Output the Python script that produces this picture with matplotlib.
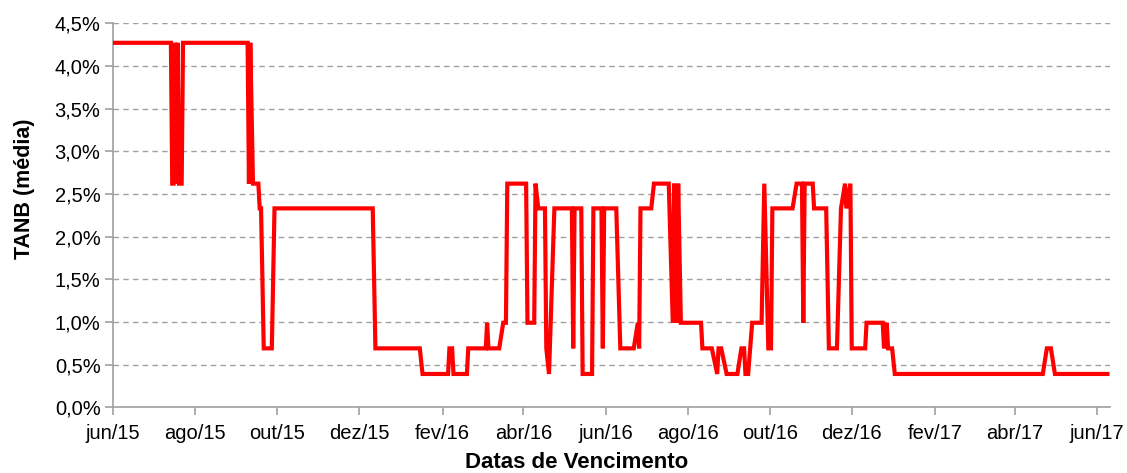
import numpy as np
import matplotlib
matplotlib.use("Agg")
import matplotlib.pyplot as plt
import matplotlib.dates as mdates
from matplotlib.ticker import FuncFormatter, MultipleLocator

plt.rcParams['font.family'] = ['Liberation Sans', 'DejaVu Sans']

# Datas de vencimento: dias desde 2015-06-01
data_base = "2015-06-01"
dias = [1, 43, 44, 45, 46, 47, 48, 49, 51, 52, 100, 101, 102, 104, 108, 109, 110, 112, 118, 120,
        193, 195, 228, 230, 249, 250, 252, 253, 263, 264, 277, 278, 279, 287, 290, 292, 293, 307,
        308, 313, 314, 316, 321, 322, 324, 328, 341, 342, 343, 348, 349, 356, 357, 363, 364, 365,
        374, 377, 387, 390, 391, 392, 400, 402, 413, 416, 417, 419, 420, 422, 437, 438, 445, 449,
        450, 452, 456, 464, 467, 469, 470, 472, 475, 482, 484, 487, 489, 490, 505, 508, 512, 513,
        514, 520, 521, 530, 532, 538, 541, 544, 545, 548, 549, 559, 560, 572, 573, 575, 576, 579,
        581, 691, 694, 697, 700, 739]
# TANB média (%)
tanb = [4.27, 4.27, 2.62, 2.62, 4.27, 2.62, 4.27, 2.62, 2.62, 4.27, 4.27, 2.62, 4.27, 2.62, 2.62, 2.33, 2.33, 0.69, 0.69, 2.33,
        2.33, 0.69, 0.69, 0.39, 0.39, 0.69, 0.69, 0.39, 0.39, 0.69, 0.69, 0.99, 0.69, 0.69, 0.99, 0.99, 2.62, 2.62,
        0.99, 0.99, 2.62, 2.33, 2.33, 0.69, 0.39, 2.33, 2.33, 0.69, 2.33, 2.33, 0.39, 0.39, 2.33, 2.33, 0.69, 2.33,
        2.33, 0.69, 0.69, 0.99, 0.69, 2.33, 2.33, 2.62, 2.62, 0.99, 2.62, 0.99, 2.62, 0.99, 0.99, 0.69, 0.69, 0.39,
        0.69, 0.69, 0.39, 0.39, 0.69, 0.69, 0.39, 0.39, 0.99, 0.99, 2.62, 0.69, 0.69, 2.33, 2.33, 2.62, 2.62, 0.99,
        2.62, 2.62, 2.33, 2.33, 0.69, 0.69, 2.33, 2.62, 2.33, 2.62, 0.69, 0.69, 0.99, 0.99, 0.69, 0.99, 0.69, 0.69,
        0.39, 0.39, 0.69, 0.69, 0.39, 0.39]

meses_pt = ["jan", "fev", "mar", "abr", "mai", "jun", "jul", "ago", "set", "out", "nov", "dez"]
x_inicio = "2015-06-01"
x_fim = "2017-06-11"

datas = np.datetime64(data_base) + np.array(dias).astype('timedelta64[D]')
valores = np.array(tanb) / 100.0

fig = plt.figure(figsize=(11.27, 4.73), dpi=100)
ax = fig.add_axes([0.1003, 0.139, 0.8847, 0.812])

ax.plot(datas, valores, color='#FF0000', lw=3.0, solid_joinstyle='miter', zorder=3)

ax.set_ylim(0, 0.045)
ax.yaxis.set_major_locator(MultipleLocator(0.005))
ax.yaxis.set_major_formatter(FuncFormatter(lambda v, p: f"{v*100:.1f}%".replace('.', ',')))
ax.set_xlim(np.datetime64(x_inicio), np.datetime64(x_fim))
ax.xaxis.set_major_locator(mdates.MonthLocator(bymonth=[2, 4, 6, 8, 10, 12]))
ax.xaxis.set_major_formatter(FuncFormatter(
    lambda v, p: f"{meses_pt[mdates.num2date(v).month-1]}/{mdates.num2date(v).year % 100:02d}"))

ax.grid(axis='y', color='#A0A0A0', linestyle=(0, (4, 3)), linewidth=1.0, zorder=1)
ax.grid(axis='x', visible=False)
for s in ['top', 'right']:
    ax.spines[s].set_visible(False)
for s in ['left', 'bottom']:
    ax.spines[s].set_color('#A0A0A0')
    ax.spines[s].set_linewidth(1.2)
ax.tick_params(axis='both', colors='#A0A0A0', labelcolor='black', labelsize=14.5, length=6, width=1.2)
ax.tick_params(axis='y', pad=3)
ax.tick_params(axis='x', pad=6)

ax.set_ylabel("TANB (média)", fontsize=15.5, fontweight='bold', labelpad=8)
ax.yaxis.set_label_coords(-0.078, 0.57)
ax.set_xlabel("Datas de Vencimento", fontsize=16, fontweight='bold')
ax.xaxis.set_label_coords(0.465, -0.117)

fig.savefig("out.png", dpi=100)
